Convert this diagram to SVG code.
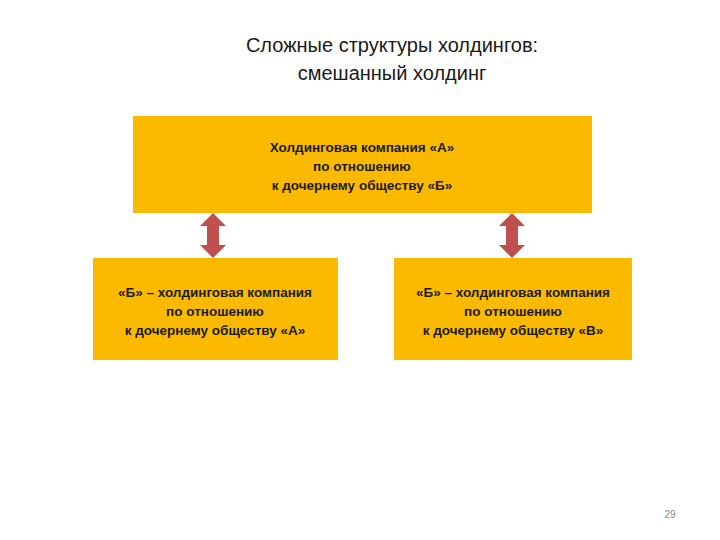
<svg xmlns="http://www.w3.org/2000/svg" width="720" height="540" viewBox="0 0 720 540">
<style>
.box{fill:#FBBA00}
.t{font-family:"Liberation Sans",Arial,sans-serif;font-size:13.5px;font-weight:bold;fill:#1a1a1a;text-anchor:middle}
.title{font-family:"Liberation Sans",Arial,sans-serif;font-size:20px;fill:#1a1a1a;text-anchor:middle}
.arr{fill:#C0504D}
</style>
<rect width="720" height="540" fill="#fff"/>
<text class="title" x="392" y="52">Сложные структуры холдингов:</text>
<text class="title" x="392" y="80">смешанный холдинг</text>
<g id="top"><rect class="box" x="133" y="116" width="459" height="97"/>
<text class="t" x="362" y="152">Холдинговая компания «А»</text>
<text class="t" x="362" y="171">по отношению</text>
<text class="t" x="362" y="190">к дочернему обществу «Б»</text></g>
<g id="left"><rect class="box" x="93" y="258" width="245" height="102"/>
<text class="t" x="215" y="297">«Б» – холдинговая компания</text>
<text class="t" x="215" y="316">по отношению</text>
<text class="t" x="215" y="335">к дочернему обществу «А»</text></g>
<g id="right"><rect class="box" x="394" y="258" width="238" height="102"/>
<text class="t" x="513" y="297">«Б» – холдинговая компания</text>
<text class="t" x="513" y="316">по отношению</text>
<text class="t" x="513" y="335">к дочернему обществу «В»</text></g>
<g id="connectors">
<path class="arr" d="M213 213 L226 226 L219 226 L219 245 L226 245 L213 258 L200 245 L207 245 L207 226 L200 226 Z"/>
<path class="arr" d="M512 213 L525 226 L518 226 L518 245 L525 245 L512 258 L499 245 L506 245 L506 226 L499 226 Z"/>
</g>
<text x="670" y="518" font-family="Liberation Sans,Arial,sans-serif" font-size="10" fill="#888" text-anchor="middle">29</text>
</svg>
